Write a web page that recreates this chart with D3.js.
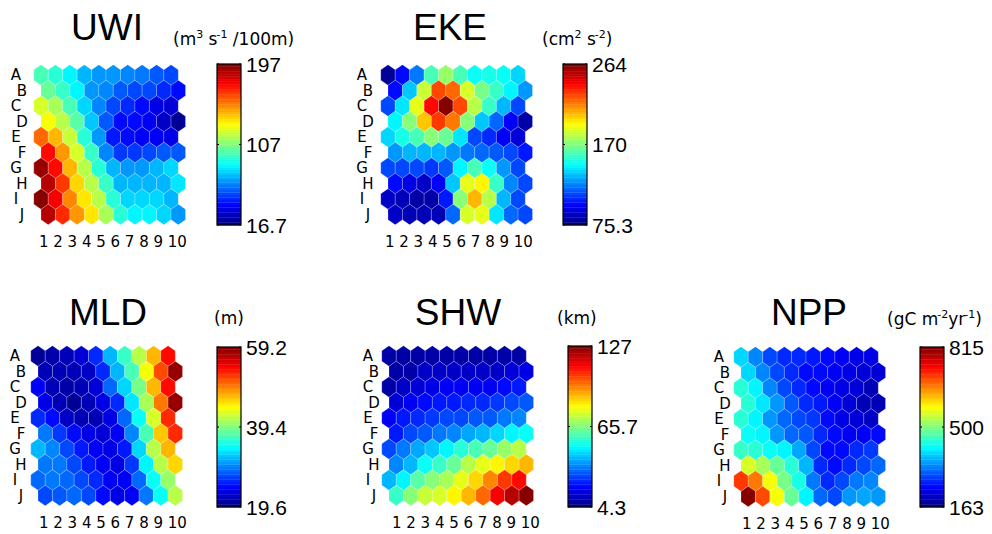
<!DOCTYPE html>
<html>
<head>
<meta charset="utf-8">
<script src="https://cdn.jsdelivr.net/npm/d3@7"></script>
<style>
body { margin: 0; background: #fff; }
text { fill: #000; }
</style>
</head>
<body>
<div id="canvas"></div>
<script>
var rowLabels = ['A','B','C','D','E','F','G','H','I','J'];
var colLabels = [1,2,3,4,5,6,7,8,9,10];

// component planes, rows A..J, columns 1..10
var uwi = [
  [98, 92, 83, 73, 65, 65, 64, 60, 56, 51],
  [103, 94, 83, 67, 62, 55, 53, 51, 46, 42],
  [121, 114, 98, 76, 62, 51, 46, 40, 35, 31],
  [129, 118, 101, 74, 56, 42, 40, 37, 28, 22],
  [157, 143, 120, 92, 65, 44, 40, 38, 38, 35],
  [172, 148, 121, 94, 64, 49, 49, 53, 56, 56],
  [192, 172, 143, 118, 92, 71, 65, 65, 71, 76],
  [188, 165, 136, 118, 94, 73, 73, 71, 73, 80],
  [197, 175, 150, 134, 116, 92, 78, 76, 78, 73],
  [188, 168, 148, 134, 114, 92, 83, 82, 76, 65]
];
var eke = [
  [81, 100, 122, 160, 173, 160, 147, 151, 147, 139],
  [100, 136, 183, 226, 221, 185, 168, 155, 145, 126],
  [111, 143, 189, 240, 264, 226, 179, 155, 134, 111],
  [145, 170, 204, 230, 219, 170, 136, 117, 98, 83],
  [138, 151, 158, 170, 164, 141, 111, 107, 98, 92],
  [126, 132, 134, 134, 128, 121, 117, 115, 111, 102],
  [113, 113, 111, 109, 115, 145, 158, 147, 126, 111],
  [100, 94, 90, 98, 136, 190, 194, 155, 124, 113],
  [90, 87, 83, 83, 102, 170, 206, 181, 132, 113],
  [90, 85, 85, 87, 117, 185, 190, 143, 117, 113]
];
var mld = [
  [20.8, 21.2, 21.6, 22.8, 26.3, 31.5, 36.6, 41.8, 47.3, 54.1],
  [22.0, 21.6, 21.6, 22.4, 26.3, 31.5, 37.4, 44.2, 51.3, 58.0],
  [24.4, 22.0, 21.2, 21.6, 23.2, 28.3, 33.1, 39.4, 47.3, 54.1],
  [23.6, 21.6, 20.8, 21.6, 23.6, 26.3, 33.5, 41.0, 49.7, 58.0],
  [26.3, 24.7, 22.4, 21.6, 22.0, 23.6, 28.7, 34.6, 42.6, 52.9],
  [29.1, 26.7, 24.7, 23.6, 22.8, 24.4, 29.9, 37.0, 46.5, 52.5],
  [31.9, 29.9, 27.5, 25.5, 24.4, 23.6, 25.5, 32.7, 41.4, 47.3],
  [29.5, 29.1, 27.5, 25.5, 24.4, 23.6, 26.7, 34.3, 41.4, 45.7],
  [28.7, 29.1, 28.3, 27.5, 25.9, 24.4, 24.0, 28.3, 34.6, 40.2],
  [27.5, 27.9, 28.3, 27.5, 25.1, 23.6, 24.0, 29.1, 34.6, 41.8]
];
var shw = [
  [9, 9, 9, 9, 9, 9, 9, 9, 10, 10],
  [10, 10, 12, 12, 13, 13, 12, 13, 14, 17],
  [10, 13, 15, 17, 18, 19, 19, 19, 20, 23],
  [15, 19, 20, 22, 23, 24, 25, 26, 28, 30],
  [19, 23, 25, 26, 28, 29, 30, 31, 34, 36],
  [23, 28, 31, 34, 36, 40, 42, 46, 50, 51],
  [28, 34, 39, 44, 50, 55, 58, 62, 68, 72],
  [35, 42, 51, 57, 63, 73, 78, 82, 86, 90],
  [42, 50, 60, 66, 71, 78, 85, 95, 104, 110],
  [57, 66, 74, 77, 82, 89, 99, 112, 121, 127]
];
var npp = [
  [385, 326, 287, 274, 267, 261, 248, 241, 228, 228],
  [385, 333, 287, 267, 254, 248, 241, 228, 222, 215],
  [437, 404, 326, 293, 267, 254, 241, 228, 215, 202],
  [430, 391, 339, 300, 274, 261, 241, 222, 202, 196],
  [437, 398, 339, 306, 293, 280, 248, 228, 215, 209],
  [417, 398, 346, 313, 300, 274, 254, 241, 241, 248],
  [443, 430, 417, 398, 352, 293, 254, 254, 267, 280],
  [541, 515, 469, 430, 365, 267, 248, 267, 293, 306],
  [698, 652, 567, 482, 424, 319, 267, 293, 319, 333],
  [815, 685, 561, 476, 404, 306, 293, 339, 352, 339]
];

var titles = ['UWI', 'EKE', 'MLD', 'SHW', 'NPP'];
var ranges = [[16.7, 197], [75.3, 264], [19.6, 59.2], [4.3, 127], [163, 815]];
var tickLabels = [
  ['16.7', '107', '197'],
  ['75.3', '170', '264'],
  ['19.6', '39.4', '59.2'],
  ['4.3', '65.7', '127'],
  ['163', '500', '815']
];
// unit strings: [text, superscript] pieces
var units = [
  [['(m',''],['3','sup'],[' s',''],['-1','sup'],[' /100m)','']],
  [['(cm',''],['2','sup'],[' s',''],['-2','sup'],[')','']],
  [['(m)','']],
  [['(km)','']],
  [['(gC m',''],['-2','sup'],['yr',''],['-1','sup'],[')','']]
];
var datasets = [uwi, eke, mld, shw, npp];

// layout of each panel
var layout = [
  {x0: 41,  y0: 75,  tx: 107, ty: 40,  ux: 173, uy: 45,  cx: 217, cy: 64,  ch: 161, lx: 16,  colx: 39,  coly: 247},
  {x0: 388, y0: 75,  tx: 450, ty: 40,  ux: 542, uy: 45,  cx: 563, cy: 64,  ch: 161, lx: 362, colx: 385, coly: 247},
  {x0: 38,  y0: 356, tx: 108, ty: 325, ux: 214, uy: 324, cx: 217, cy: 347, ch: 160, lx: 15,  colx: 39,  coly: 528},
  {x0: 389, y0: 356, tx: 458, ty: 325, ux: 557, uy: 324, cx: 568, cy: 346, ch: 161, lx: 368, colx: 392, coly: 528},
  {x0: 741, y0: 357, tx: 809, ty: 325, ux: 887, uy: 325, cx: 920, cy: 347, ch: 160, lx: 719, colx: 742, coly: 529}
];

var W = 992, H = 534;
var dx = 14.45, dy = 15.5;
var ry = dy / 1.5, hw = dx / 2;

var svg = d3.select('#canvas')
    .append('svg')
    .attr('width', W)
    .attr('height', H);

// matlab style jet, 64 levels
function jet(t) {
    var i = Math.min(63, Math.max(0, Math.floor(t * 64)));
    var u = (i + 0.5) / 64;
    var c = function(v) { return Math.round(255 * Math.max(0, Math.min(1, v))); };
    return d3.rgb(c(1.5 - Math.abs(4 * u - 3)), c(1.5 - Math.abs(4 * u - 2)), c(1.5 - Math.abs(4 * u - 1))).toString();
}

var hexPath = 'M0,' + (-ry) + 'L' + hw + ',' + (-ry / 2) + 'L' + hw + ',' + (ry / 2) +
    'L0,' + ry + 'L' + (-hw) + ',' + (ry / 2) + 'L' + (-hw) + ',' + (-ry / 2) + 'Z';

datasets.forEach(function(data, p) {
    var L = layout[p];
    var g = svg.append('g').attr('class', 'panel');

    var x = d3.scaleLinear().domain([0, 9]).range([L.x0, L.x0 + 9 * dx]);
    var y = d3.scaleLinear().domain([0, 9]).range([L.y0, L.y0 + 9 * dy]);
    var norm = d3.scaleLinear().domain(ranges[p]).range([0, 1]).clamp(true);

    var cells = [];
    data.forEach(function(row, r) {
        row.forEach(function(v, c) { cells.push({r: r, c: c, v: v}); });
    });

    g.selectAll('.hex')
        .data(cells)
        .enter()
        .append('path')
        .attr('class', 'hex')
        .attr('d', hexPath)
        .attr('transform', function(d) {
            return 'translate(' + (x(d.c) + (d.r % 2) * dx / 2) + ',' + y(d.r) + ')';
        })
        .style('fill', function(d) { return jet(norm(d.v)); })
        .style('stroke', 'rgba(255,255,255,0.35)')
        .style('stroke-width', 0.6);

    // row letters
    g.selectAll('.rowlab')
        .data(rowLabels)
        .enter()
        .append('text')
        .attr('class', 'rowlab')
        .attr('x', function(d, i) { return L.lx + (i % 2) * 6; })
        .attr('y', function(d, i) { return y(i); })
        .attr('text-anchor', 'middle')
        .attr('dominant-baseline', 'central')
        .style('font-family', 'DejaVu Sans')
        .style('font-size', '15px')
        .text(function(d) { return d; });

    // column numbers
    g.append('text')
        .attr('x', L.colx)
        .attr('y', L.coly)
        .style('font-family', 'DejaVu Sans')
        .style('font-size', '15px')
        .text(colLabels.join(' '));

    // title
    g.append('text')
        .attr('x', L.tx)
        .attr('y', L.ty)
        .attr('text-anchor', 'middle')
        .style('font-family', 'Liberation Sans')
        .style('font-size', '37px')
        .text(titles[p]);

    // units
    var ut = g.append('text')
        .attr('x', L.ux)
        .attr('y', L.uy)
        .style('font-family', 'DejaVu Sans')
        .style('font-size', '17px');
    var up = false;
    units[p].forEach(function(piece) {
        var sup = piece[1] === 'sup';
        var dyv = 0;
        if (sup && !up) dyv = -7;
        if (!sup && up) dyv = 7;
        up = sup;
        ut.append('tspan')
            .attr('dy', dyv)
            .attr('dx', sup && piece[0].charAt(0) === '-' ? -1 : 0)
            .style('font-size', sup ? '11px' : '17px')
            .text(piece[0]);
    });

    // colorbar
    var cb = d3.scaleLinear().domain([0, 1]).range([L.cy + L.ch, L.cy]);
    var levels = d3.range(64);
    var cw = 24;
    g.selectAll('.lev')
        .data(levels)
        .enter()
        .append('rect')
        .attr('class', 'lev')
        .attr('x', L.cx)
        .attr('y', function(d) { return cb((d + 1) / 64); })
        .attr('width', cw)
        .attr('height', function(d) { return cb(d / 64) - cb((d + 1) / 64) + 0.3; })
        .style('fill', function(d) { return jet((d + 0.5) / 64); });
    g.append('rect')
        .attr('x', L.cx)
        .attr('y', L.cy)
        .attr('width', cw)
        .attr('height', L.ch)
        .style('fill', 'none')
        .style('stroke', '#000')
        .style('stroke-width', 1.2);

    var tpos = [0, 0.5, 1];
    g.selectAll('.tk')
        .data(tpos)
        .enter()
        .append('path')
        .attr('class', 'tk')
        .attr('d', function(d) {
            var yy = cb(d);
            return 'M' + L.cx + ',' + yy + 'h2M' + (L.cx + cw) + ',' + yy + 'h-2';
        })
        .style('stroke', '#000')
        .style('stroke-width', 1);

    g.selectAll('.tl')
        .data(tpos)
        .enter()
        .append('text')
        .attr('class', 'tl')
        .attr('x', L.cx + cw + 5)
        .attr('y', function(d) { return cb(d); })
        .attr('dominant-baseline', 'central')
        .style('font-family', 'Liberation Sans')
        .style('font-size', '21px')
        .text(function(d, i) { return tickLabels[p][i]; });
});
</script>
</body>
</html>
